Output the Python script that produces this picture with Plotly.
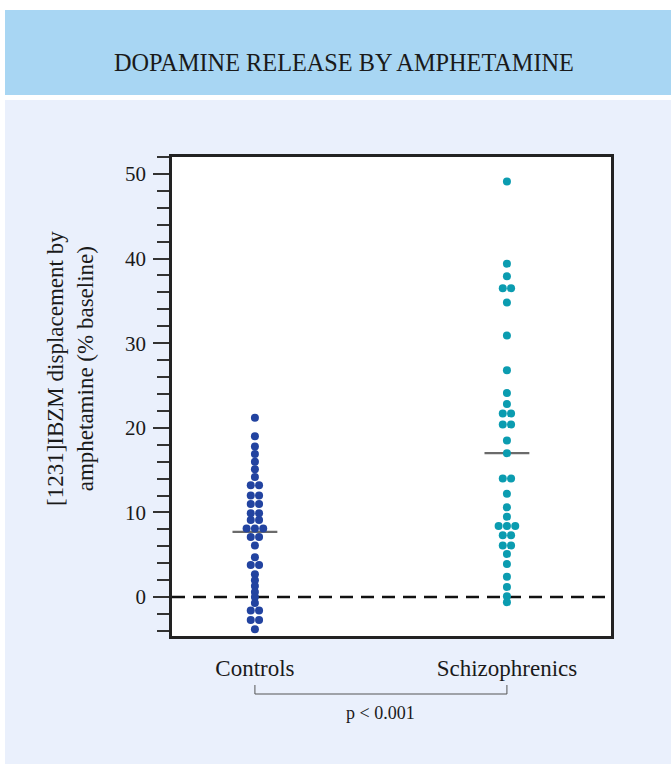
from collections import Counter

import plotly.graph_objects as go

# groups and read-off values (% displacement)
groups = ["Controls", "Schizophrenics"]
controls = [21.2, 19.0, 17.8, 16.9, 16.0, 15.1, 14.2, 13.2, 13.2, 12.0, 12.0,
            11.0, 11.0, 9.9, 9.9, 9.1, 9.1, 8.1, 8.1, 8.1, 7.1, 7.1, 6.1, 4.7,
            3.8, 3.8, 2.7, 2.0, 1.3, 0.6, 0.0, -0.7, -1.6, -1.6, -2.7, -2.7, -3.8]
schizophrenics = [49.1, 39.4, 37.9, 36.5, 36.5, 34.8, 30.9, 26.8, 24.1, 22.8,
                  21.7, 21.7, 20.4, 20.4, 18.5, 17.0, 14.0, 14.0, 12.2, 10.6,
                  9.5, 8.4, 8.4, 8.4, 7.3, 7.3, 6.1, 6.1, 5.1, 3.9, 2.4, 1.2,
                  0.1, -0.6]
group_means = [7.7, 17.0]
colors = ["#2243a0", "#0b9cb0"]

W, H = 671, 764
L, R, T, B = 172, 611, 157, 636  # plot area in pixels
FONT = "Liberation Serif, Times New Roman, serif"


def px(x):
    return (x - L) / (R - L)


def py(y):
    return (B - y) / (B - T)


def swarm(vals, centre, step=0.033):
    # spread equal values side by side
    counts = Counter(vals)
    seen = {}
    xs = []
    for v in vals:
        i = seen.get(v, 0)
        seen[v] = i + 1
        xs.append(centre + (i - (counts[v] - 1) / 2) * step)
    return xs


fig = go.Figure()

for i, m in enumerate(group_means):
    fig.add_trace(go.Scatter(x=[i - 0.089, i + 0.089], y=[m, m], mode="lines",
                             line=dict(color="#6b6b6b", width=2.2),
                             hoverinfo="skip", showlegend=False))

for i, vals in enumerate([controls, schizophrenics]):
    fig.add_trace(go.Scatter(x=swarm(vals, i), y=vals, mode="markers",
                             marker=dict(color=colors[i], size=8, line=dict(width=0)),
                             name=groups[i], showlegend=False))

shapes = [
    # white margins around the panel
    dict(type="rect", xref="paper", yref="paper", x0=px(0), x1=px(W), y0=py(100), y1=py(0),
         fillcolor="white", line_width=0, layer="below"),
    dict(type="rect", xref="paper", yref="paper", x0=px(0), x1=px(5), y0=py(H), y1=py(0),
         fillcolor="white", line_width=0, layer="below"),
    # title band
    dict(type="rect", xref="paper", yref="paper", x0=px(5), x1=px(W), y0=py(95), y1=py(10),
         fillcolor="#a8d6f3", line_width=0, layer="below"),
    # zero line
    dict(type="line", xref="paper", yref="y", x0=0, x1=1, y0=0, y1=0,
         line=dict(color="#111111", width=2.5, dash="13px,8px"), layer="below"),
    # bracket
    dict(type="path", xref="x", yref="paper",
         path=f"M 0,{py(685)} L 0,{py(694)} L 1,{py(694)} L 1,{py(685)}",
         line=dict(color="#555555", width=1)),
]

annotations = [
    dict(text="DOPAMINE RELEASE BY AMPHETAMINE", xref="paper", yref="paper",
         x=px(344), y=py(62), xanchor="center", yanchor="middle",
         showarrow=False, font=dict(size=24.3, color="#1a1a1a")),
    dict(text="[1231]IBZM displacement by<br>amphetamine (% baseline)",
         xref="paper", yref="paper", x=px(70), y=py(369), textangle=-90,
         xanchor="center", yanchor="middle",
         showarrow=False, font=dict(size=23, color="#1a1a1a")),
    dict(text="p &lt; 0.001", xref="x", yref="paper", x=0.5, y=py(713),
         xanchor="center", yanchor="middle",
         showarrow=False, font=dict(size=18, color="#1a1a1a")),
]

fig.update_layout(
    width=W, height=H,
    margin=dict(l=L, r=W - R, t=T, b=H - B, pad=0),
    paper_bgcolor="#eaf0fc", plot_bgcolor="white",
    font=dict(family=FONT, color="#1a1a1a"),
    shapes=shapes, annotations=annotations,
    xaxis=dict(range=[-0.329, 1.413], tickvals=[0, 1], ticktext=groups,
               showgrid=False, zeroline=False, ticks="", ticklabelstandoff=10,
               tickfont=dict(size=23), showline=True, linewidth=2.5,
               linecolor="#222222", mirror=True),
    yaxis=dict(range=[-4.6, 52], tick0=0, dtick=10, ticks="outside", ticklen=16,
               tickwidth=1.5, tickcolor="#333333", tickfont=dict(size=21),
               showgrid=False, zeroline=False, showline=True, linewidth=2.5,
               linecolor="#222222", mirror=True, ticklabelstandoff=3,
               minor=dict(dtick=2, ticks="outside", ticklen=12, tickwidth=1.5,
                          tickcolor="#333333", showgrid=False)),
)

fig.write_html("out.html", config={"displayModeBar": False},
               post_script="document.body.style.margin = '0';")
